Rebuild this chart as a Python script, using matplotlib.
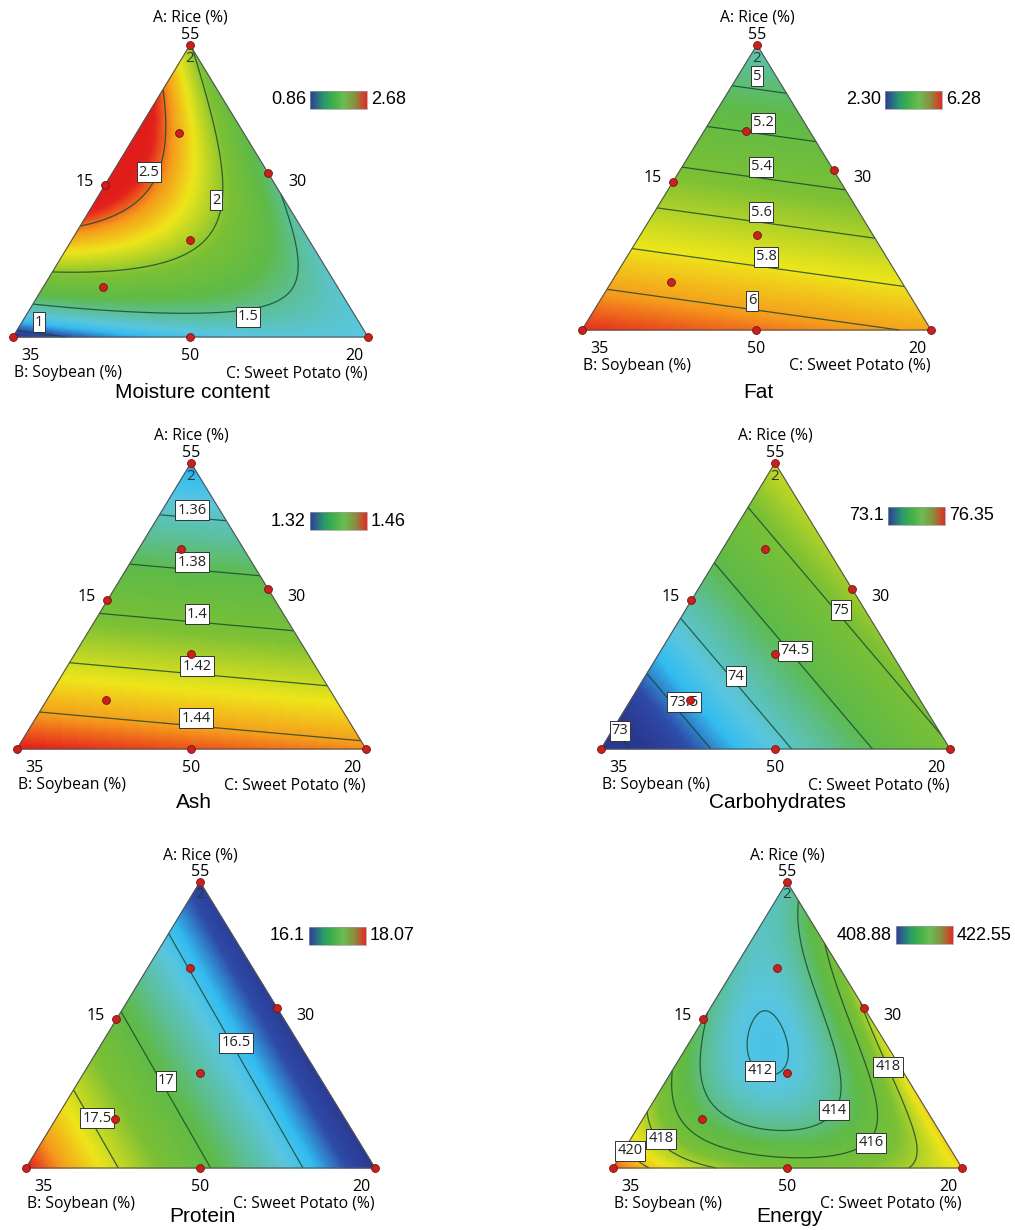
import numpy as np
import matplotlib
matplotlib.use('Agg')
import matplotlib.pyplot as plt
import matplotlib.tri as mtri
from matplotlib.colors import LinearSegmentedColormap, Normalize

# ---- responses -------------------------------------------------------------
titles = ['Moisture content', 'Fat', 'Ash', 'Carbohydrates', 'Protein', 'Energy']
legend_lo = ['0.86', '2.30', '1.32', '73.1', '16.1', '408.88']
legend_hi = ['2.68', '6.28', '1.46', '76.35', '18.07', '422.55']

# Scheffe special-cubic terms in L-pseudo components: A, B, C, AB, AC, BC, ABC
moisture_coef = [2.02, 0.86, 1.30, 5.09, -0.61, 0.60, 2.9]
fat_coef = [4.80, 6.20, 5.98, 0.0, 0.0, 0.0, 0.0]
ash_coef = [1.339, 1.455, 1.443, 0.0, 0.0, 0.0, 0.0]
carb_coef = [75.40, 72.82, 74.98, 0.0, 0.0, 0.0, 0.0]
protein_coef = [16.17, 18.00, 16.11, 0.0, 0.0, 0.0, 0.0]
energy_coef = [413.0, 421.5, 419.5, -11.6, 9.4, -14.0, -111.0]
coefs = [moisture_coef, fat_coef, ash_coef, carb_coef, protein_coef, energy_coef]

moisture_levels = [1, 1.5, 2, 2.5]
fat_levels = [5, 5.2, 5.4, 5.6, 5.8, 6]
ash_levels = [1.36, 1.38, 1.40, 1.42, 1.44]
carb_levels = [73, 73.5, 74, 74.5, 75]
protein_levels = [16.5, 17, 17.5]
energy_levels = [412, 414, 416, 418, 420]
levels = [moisture_levels, fat_levels, ash_levels, carb_levels,
          protein_levels, energy_levels]

# colour scale limits of the shaded surface
fill_range = [(0.86, 2.68), (4.15, 6.31), (1.32, 1.46), (73.1, 76.35),
              (16.1, 18.07), (408.88, 422.55)]

# design runs (pseudo components)
run_a = [1.0, 0.0, 0.0, 0.52, 0.56, 0.0, 1 / 3, 0.70, 0.17]
run_b = [0.0, 1.0, 0.0, 0.48, 0.0, 0.5, 1 / 3, 0.18, 0.66]
run_c = [0.0, 0.0, 1.0, 0.0, 0.44, 0.5, 1 / 3, 0.12, 0.17]

# ---- layout (pixels) -------------------------------------------------------
panel_top = [(190, 45), (757, 45), (191, 463), (775, 463), (200, 882), (787, 882)]
panel_base = [337, 330, 749, 749, 1168, 1168]
panel_left = [13, 582, 17, 601, 26, 613]
panel_right = [368, 931, 366, 950, 375, 962]
title_y = [393, 393, 802, 802, 1217, 1217]
bar_x = [310, 885, 310, 888, 309, 896]
bar_y = [91, 91, 512, 507, 927, 926]
bar_w, bar_h = 57, 18

label_pos = [
    [(39, 322), (248, 317), (216, 200), (149, 172)],
    [(757, 76), (763, 123), (761, 167), (761, 212), (766, 257), (752, 301)],
    [(192, 510), (192, 562), (197, 614), (197, 666), (196, 718)],
    [(620, 731), (684, 702), (736, 676), (795, 651), (841, 610)],
    [(236, 1043), (166, 1081), (97, 1118)],
    [(760, 1071), (834, 1110), (871, 1143), (888, 1067), (661, 1139), (630, 1151)],
]

surface_cmap = LinearSegmentedColormap.from_list('surface', [
    (0.00, '#2a3990'), (0.08, '#2e4aa8'), (0.17, '#33bdf0'), (0.24, '#5ac6e0'),
    (0.34, '#5cbf9a'), (0.44, '#5eba48'), (0.60, '#7cc035'), (0.76, '#eee61a'),
    (0.87, '#f5991c'), (0.96, '#e3211c'), (1.00, '#e01d1b')])
legend_cmap = LinearSegmentedColormap.from_list('legend', [
    (0.0, '#2d3c9e'), (0.25, '#2a9a6a'), (0.4, '#3fb04a'), (0.6, '#6cbd52'),
    (0.8, '#8b8d3e'), (1.0, '#e52a25')])

axis_font = 'Open Sans'
num_font = 'Liberation Sans'


def model(coef, a, b, c):
    return (coef[0] * a + coef[1] * b + coef[2] * c + coef[3] * a * b
            + coef[4] * a * c + coef[5] * b * c + coef[6] * a * b * c)


def to_px(k, a, b, c):
    tx, ty = panel_top[k]
    x = a * tx + b * panel_left[k] + c * panel_right[k]
    y = a * ty + (b + c) * panel_base[k]
    return x, y


# lattice over the simplex
n = 100
ii, jj = np.meshgrid(np.arange(n + 1), np.arange(n + 1), indexing='ij')
keep = ii + jj <= n
ga = ii[keep] / n
gb = jj[keep] / n
gc = np.clip(1 - ga - gb, 0, 1)

fig = plt.figure(figsize=(10.15, 12.30), dpi=100)
ax = fig.add_axes([0, 0, 1, 1])

for k in range(6):
    tx, ty = panel_top[k]
    y0 = panel_base[k]
    xl, xr = panel_left[k], panel_right[k]

    gx, gy = to_px(k, ga, gb, gc)
    tri = mtri.Triangulation(gx, gy)
    z = model(coefs[k], ga, gb, gc)
    norm = Normalize(*fill_range[k])
    ax.tripcolor(tri, z, cmap=surface_cmap, norm=norm, shading='gouraud', zorder=1)
    cs = ax.tricontour(tri, z, levels=levels[k], colors='#14452f', linewidths=0.9,
                       alpha=0.8, zorder=2)
    txts = ax.clabel(cs, levels[k], inline=False, fontsize=10.5, fmt='%g',
                     manual=label_pos[k], zorder=4)
    # boxes sit just above their line, upright
    for t, pos in zip(txts, label_pos[k]):
        t.set_position(pos)
        t.set_rotation(0)
        t.set_color('#222222')
        t.set_fontfamily(axis_font)
        t.set_bbox(dict(boxstyle='square,pad=0.14', fc='white', ec='#333333', lw=0.7))

    # triangle outline
    ax.plot([tx, xl, xr, tx], [ty, y0, y0, ty], color='#555555', lw=0.8, zorder=3)

    # design points
    px, py = to_px(k, np.array(run_a), np.array(run_b), np.array(run_c))
    ax.scatter(px, py, s=32, c='#c8221f', edgecolors='#7a1010', linewidths=0.6,
               zorder=5, clip_on=False)
    ax.text(tx, ty + 13, '2', ha='center', va='center', fontsize=11,
            color='#2a3838', family=axis_font, zorder=6)

    # component labels
    ax.text(tx, ty - 27, 'A: Rice (%)', ha='center', va='center', fontsize=11.3,
            family=axis_font)
    ax.text(tx, ty - 10, '55', ha='center', va='center', fontsize=11.5,
            family=axis_font)
    ax.text((tx + xl) / 2 - 17, (ty + y0) / 2 - 9, '15', ha='center', va='center',
            fontsize=11.5, family=axis_font)
    ax.text((tx + xr) / 2 + 18, (ty + y0) / 2 - 9, '30', ha='center', va='center',
            fontsize=11.5, family=axis_font)
    ax.text(xl + 17, y0 + 19, '35', ha='center', va='center', fontsize=11.5,
            family=axis_font)
    ax.text((xl + xr) / 2, y0 + 19, '50', ha='center', va='center', fontsize=11.5,
            family=axis_font)
    ax.text(xr - 14, y0 + 19, '20', ha='center', va='center', fontsize=11.5,
            family=axis_font)
    ax.text(xl + 1, y0 + 36, 'B: Soybean (%)', ha='left', va='center', fontsize=11.3,
            family=axis_font)
    ax.text(xr, y0 + 36, 'C: Sweet Potato (%)', ha='right', va='center',
            fontsize=11.3, family=axis_font)
    ax.text((xl + xr) / 2 + 2, title_y[k], titles[k], ha='center', va='center',
            fontsize=15, family=num_font)

    # colour legend
    bx, by = bar_x[k], bar_y[k]
    grad = np.linspace(0, 1, 256)[None, :]
    ax.imshow(grad, cmap=legend_cmap, aspect='auto',
              extent=[bx, bx + bar_w, by + bar_h, by], zorder=3)
    ax.plot([bx, bx + bar_w, bx + bar_w, bx, bx], [by, by, by + bar_h, by + bar_h, by],
            color='#999999', lw=0.5, zorder=4)
    ax.text(bx - 4, by + bar_h / 2, legend_lo[k], ha='right', va='center',
            fontsize=13, family=num_font)
    ax.text(bx + bar_w + 4, by + bar_h / 2, legend_hi[k], ha='left', va='center',
            fontsize=13, family=num_font)

ax.set_xlim(0, 1015)
ax.set_ylim(1230, 0)
ax.axis('off')
fig.savefig('out.png', dpi=100)
